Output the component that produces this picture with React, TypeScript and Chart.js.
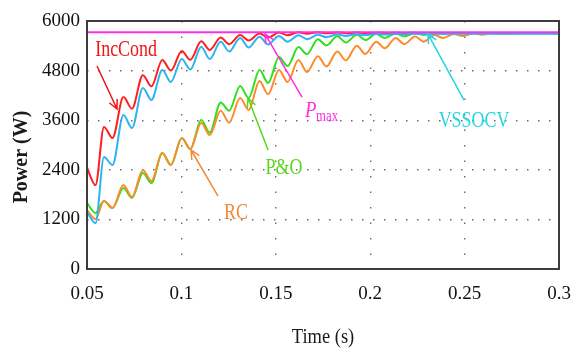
import React, { useEffect, useRef } from "react";
import { Chart, registerables } from "chart.js";

Chart.register(...registerables);

// ---- data (time in s, power in W) ----
const times = [
  0.05, 0.0545,
  0.059, 0.0635,
  0.0693, 0.0738,
  0.0796, 0.0841,
  0.0899, 0.0944,
  0.1002, 0.1047,
  0.1105, 0.115,
  0.1208, 0.1253,
  0.1311, 0.1356,
  0.1414, 0.1459,
  0.1517, 0.1562,
  0.162, 0.1665,
  0.1723, 0.1768,
  0.1826, 0.1871,
  0.1929, 0.1974,
  0.2032, 0.2077,
  0.2135, 0.218,
  0.2238, 0.2283,
  0.2341, 0.2386,
  0.2444, 0.2489,
  0.2547, 0.2592,
  0.265, 0.2695,
  0.28, 0.3,
];

const incCond = [
  2450, 2030,
  3436, 3170,
  4160, 3880,
  4690, 4420,
  5056, 4800,
  5274, 5060,
  5510, 5300,
  5600, 5440,
  5660, 5530,
  5700, 5600,
  5720, 5655,
  5728, 5690,
  5726, 5702,
  5722, 5706,
  5719, 5709,
  5716, 5710,
  5714, 5711,
  5713, 5712,
  5712, 5712,
  5712, 5712,
  5712, 5712,
  5712, 5712,
  5712, 5712,
];

const vssocv = [
  1380, 1110,
  2710, 2516,
  3726, 3411,
  4380, 4088,
  4814, 4524,
  5080, 4825,
  5380, 5080,
  5500, 5260,
  5590, 5360,
  5620, 5430,
  5640, 5500,
  5655, 5560,
  5665, 5610,
  5675, 5640,
  5680, 5660,
  5685, 5672,
  5688, 5680,
  5690, 5685,
  5690, 5688,
  5690, 5690,
  5690, 5690,
  5690, 5690,
  5690, 5690,
];

const pAndO = [
  1600, 1355,
  1645, 1476,
  1960, 1720,
  2322, 2080,
  2806, 2516,
  3170, 2900,
  3605, 3300,
  4030, 3830,
  4430, 4137,
  4814, 4500,
  5129, 4910,
  5370, 5200,
  5560, 5410,
  5630, 5480,
  5670, 5540,
  5690, 5590,
  5700, 5630,
  5705, 5665,
  5705, 5690,
  5705, 5700,
  5705, 5703,
  5705, 5705,
  5705, 5705,
];

const rc = [
  1420, 1210,
  1645, 1476,
  2032, 1742,
  2395, 2130,
  2806, 2516,
  3170, 2900,
  3532, 3242,
  3830, 3540,
  4140, 3847,
  4550, 4230,
  4814, 4524,
  5056, 4766,
  5150, 4900,
  5260, 5050,
  5400, 5200,
  5500, 5340,
  5590, 5440,
  5625, 5500,
  5660, 5590,
  5685, 5636,
  5700, 5670,
  5705, 5690,
  5705, 5705,
];

const pmaxTimes = [0.05, 0.3];
const pmaxValues = [5730, 5730];

const xTickLabels = ["0.05", "0.1", "0.15", "0.2", "0.25", "0.3"];
const yTickLabels = ["0", "1200", "2400", "3600", "4800", "6000"];

// ---- annotations (anchors in data coordinates) ----
const labels = [
  { text: "IncCond", t: 0.0707, p: 5298, color: "#ee1515" },
  { text: "VSSOCV", t: 0.255, p: 3580, color: "#22d6e2" },
  { text: "P&O", t: 0.1543, p: 2443, color: "#5ad61e" },
  { text: "RC", t: 0.1289, p: 1355, color: "#f08a36" },
];
const pmaxLabel = { t: 0.1655, p: 3677, color: "#ff2ee0" };

const arrows = [
  { from: [0.0553, 4911], to: [0.0659, 3870], color: "#ee1515" },
  { from: [0.1639, 4161], to: [0.1443, 5685], color: "#ff2ee0" },
  { from: [0.2497, 4088], to: [0.2306, 5685], color: "#22d6e2" },
  { from: [0.1459, 2879], to: [0.1353, 4137], color: "#5ad61e" },
  { from: [0.1194, 1766], to: [0.1051, 2879], color: "#f08a36" },
];

const SERIF = "'Liberation Serif', 'Times New Roman', serif";

function drawText(
  ctx: CanvasRenderingContext2D,
  text: string,
  px: number,
  py: number,
  font: string,
  color: string,
  sx: number,
  align: CanvasTextAlign = "center",
  baseline: CanvasTextBaseline = "middle"
) {
  ctx.save();
  ctx.translate(px, py);
  ctx.scale(sx, 1);
  ctx.font = font;
  ctx.fillStyle = color;
  ctx.textAlign = align;
  ctx.textBaseline = baseline;
  ctx.fillText(text, 0, 0);
  ctx.restore();
}

const decorPlugin = {
  id: "decor",
  afterDatasetsDraw(chart: any) {
    const { ctx, chartArea: a, scales } = chart;
    const xs = scales.x;
    const ys = scales.y;
    ctx.save();
    // frame
    ctx.strokeStyle = "#3c3c3c";
    ctx.lineWidth = 2;
    ctx.strokeRect(a.left, a.top, a.right - a.left, a.bottom - a.top);

    // arrows
    arrows.forEach((ar) => {
      const fx = xs.getPixelForValue(ar.from[0]);
      const fy = ys.getPixelForValue(ar.from[1]);
      const tx = xs.getPixelForValue(ar.to[0]);
      const ty = ys.getPixelForValue(ar.to[1]);
      ctx.strokeStyle = ar.color;
      ctx.lineWidth = 1.5;
      ctx.beginPath();
      ctx.moveTo(fx, fy);
      ctx.lineTo(tx, ty);
      const ang = Math.atan2(fy - ty, fx - tx);
      const L = 10;
      ctx.moveTo(tx + L * Math.cos(ang + 0.45), ty + L * Math.sin(ang + 0.45));
      ctx.lineTo(tx, ty);
      ctx.lineTo(tx + L * Math.cos(ang - 0.45), ty + L * Math.sin(ang - 0.45));
      ctx.stroke();
    });

    // labels
    labels.forEach((l) => {
      drawText(
        ctx,
        l.text,
        xs.getPixelForValue(l.t),
        ys.getPixelForValue(l.p),
        `23px ${SERIF}`,
        l.color,
        0.78
      );
    });
    const px = xs.getPixelForValue(pmaxLabel.t);
    const py = ys.getPixelForValue(pmaxLabel.p);
    drawText(ctx, "P", px, py, `italic 24px ${SERIF}`, pmaxLabel.color, 0.78, "left", "alphabetic");
    drawText(ctx, "max", px + 11, py + 4, `16px ${SERIF}`, pmaxLabel.color, 0.8, "left", "alphabetic");
    ctx.restore();
  },
  afterDraw(chart: any) {
    const { ctx, chartArea: a } = chart;
    ctx.save();
    drawText(ctx, "Time (s)", (a.left + a.right) / 2, 337, `21px ${SERIF}`, "#1a1a1a", 0.88);
    ctx.translate(22, 157);
    ctx.rotate(-Math.PI / 2);
    ctx.font = `bold 20px ${SERIF}`;
    ctx.fillStyle = "#1a1a1a";
    ctx.textAlign = "center";
    ctx.textBaseline = "middle";
    ctx.fillText("Power (W)", 0, 0);
    ctx.restore();
  },
};

const toPts = (ys: number[]) => times.map((t, i) => ({ x: t, y: ys[i] }));

export default function App() {
  const ref = useRef<HTMLCanvasElement | null>(null);

  useEffect(() => {
    if (!ref.current) return;
    const line = (label: string, data: any[], color: string) => ({
      label,
      data,
      borderColor: color,
      backgroundColor: color,
      borderWidth: 2,
      pointRadius: 0,
      fill: false,
      cubicInterpolationMode: "monotone" as const,
    });
    const chart = new Chart(ref.current, {
      type: "line",
      data: {
        datasets: [
          line("Pmax", pmaxTimes.map((t, i) => ({ x: t, y: pmaxValues[i] })), "#ff2ee6"),
          line("VSSOCV", toPts(vssocv), "#2eb4f0"),
          line("IncCond", toPts(incCond), "#ff1f1f"),
          line("RC", toPts(rc), "#ff8a2a"),
          line("P&O", toPts(pAndO), "#2ee01e"),
        ],
      },
      options: {
        responsive: false,
        animation: false,
        events: [],
        layout: { padding: { top: 21, right: 17, left: 0, bottom: 0 } },
        plugins: { legend: { display: false }, tooltip: { enabled: false } },
        scales: {
          x: {
            type: "linear",
            min: 0.05,
            max: 0.3,
            afterFit: (s: any) => {
              s.height = 82;
              s.paddingLeft = 0;
              s.paddingRight = 0;
            },
            ticks: {
              stepSize: 0.05,
              padding: 14,
              color: "#111",
              font: { family: SERIF, size: 19 },
              maxRotation: 0,
              callback: (v: any) => {
                const i = Math.round((Number(v) - 0.05) / 0.05);
                return xTickLabels[i] ?? "";
              },
            },
            grid: {
              color: "#6a6a6a",
              lineWidth: 1.4,
              drawTicks: false,
            },
            border: { display: false, dash: [1.5, 14] } as any,
          },
          y: {
            min: 0,
            max: 6000,
            afterFit: (s: any) => {
              s.width = 87;
              s.paddingTop = 0;
              s.paddingBottom = 0;
            },
            ticks: {
              stepSize: 1200,
              padding: 7,
              color: "#111",
              font: { family: SERIF, size: 19 },
              callback: (v: any) => {
                const i = Math.round(Number(v) / 1200);
                return yTickLabels[i] ?? "";
              },
            },
            grid: {
              color: "#6a6a6a",
              lineWidth: 1.4,
              drawTicks: false,
            },
            border: { display: false, dash: [1.5, 9.5] } as any,
          },
        },
      },
      plugins: [decorPlugin],
    } as any);
    return () => chart.destroy();
  }, []);

  return (
    <div style={{ position: "fixed", left: 0, top: 0, width: 576, height: 351, background: "#fff" }}>
      <canvas ref={ref} width={576} height={351} style={{ display: "block" }} />
    </div>
  );
}
